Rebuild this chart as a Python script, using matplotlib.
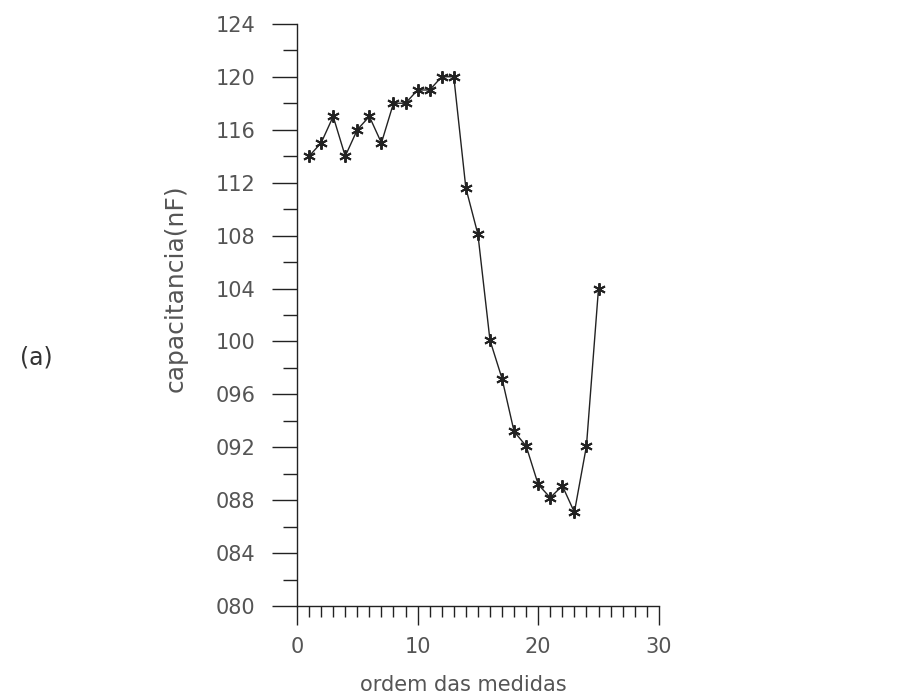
import matplotlib
matplotlib.use("Agg")
import matplotlib.pyplot as plt
from matplotlib.ticker import MultipleLocator, FixedLocator

# DATA
ordem = list(range(1, 26))
capacitancia = [114.0, 115.0, 117.0, 114.0, 116.0, 117.0, 115.0, 118.0, 118.0,
                119.0, 119.0, 120.0, 120.0, 111.6, 108.1, 100.1, 97.2, 93.2,
                92.1, 89.2, 88.2, 89.1, 87.1, 92.1, 104.0]
yticks = [80, 84, 88, 92, 96, 100, 104, 108, 112, 116, 120, 124]
ytick_labels = ["080", "084", "088", "092", "096", "100", "104", "108",
                "112", "116", "120", "124"]
xticks = [0, 10, 20, 30]

INK = "#222222"
LABEL = "#555555"

fig = plt.figure(figsize=(9, 7), dpi=100)
ax = fig.add_axes([0.33, 0.134, 0.402, 0.832])

ax.plot(ordem, capacitancia, color=INK, lw=1.0, marker=(6, 2, 0),
        markersize=9, markeredgewidth=1.4, markeredgecolor=INK)

ax.set_xlim(0, 30)
ax.set_ylim(80, 124)

ax.spines["top"].set_visible(False)
ax.spines["right"].set_visible(False)
for s in ("left", "bottom"):
    ax.spines[s].set_color(INK)
    ax.spines[s].set_linewidth(1.0)

ax.yaxis.set_major_locator(FixedLocator(yticks))
ax.set_yticklabels(ytick_labels)
ax.yaxis.set_minor_locator(MultipleLocator(2))
ax.xaxis.set_major_locator(FixedLocator(xticks))
ax.xaxis.set_minor_locator(MultipleLocator(1))

ax.tick_params(axis="y", which="major", direction="out", length=18, width=1,
               color=INK, labelsize=15, labelcolor=LABEL, pad=12)
ax.tick_params(axis="y", which="minor", direction="out", length=10, width=1,
               color=INK)
ax.tick_params(axis="x", which="major", direction="out", length=14, width=1,
               color=INK, labelsize=15, labelcolor=LABEL, pad=8)
ax.tick_params(axis="x", which="minor", direction="out", length=8, width=1,
               color=INK)

ax.set_ylabel("capacitancia(nF)", fontsize=18, color=LABEL)
ax.yaxis.set_label_coords(-0.301, 0.546)
ax.set_xlabel("ordem das medidas", fontsize=15, color=LABEL)
ax.xaxis.set_label_coords(0.459, -0.118)

fig.text(0.022, 0.49, "(a)", fontsize=17, color="#333333",
         va="center", ha="left")

fig.savefig("out.png", dpi=100)
